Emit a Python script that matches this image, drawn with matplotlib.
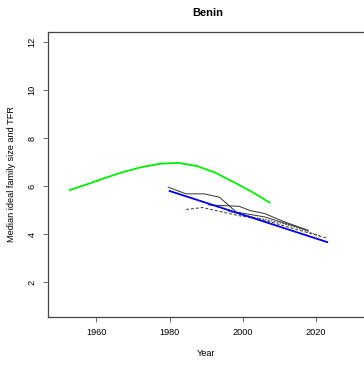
import matplotlib
matplotlib.use("Agg")
import matplotlib.pyplot as plt

plt.rcParams['font.family'] = ['Liberation Sans', 'DejaVu Sans']

country = "Benin"

# UN estimates of total fertility rate (5-year period midpoints)
tfr_years = [1952.5, 1957.5, 1962.5, 1967.5, 1972.5, 1977.5, 1982.5,
             1987.5, 1992.5, 1997.5, 2002.5, 2007.5]
tfr_values = [5.83, 6.08, 6.35, 6.60, 6.80, 6.94, 6.97, 6.84, 6.56, 6.17, 5.76, 5.30]

# Fitted trend of ideal family size
trend_years = [1980, 2023]
trend_values = [5.80, 3.67]

# Median ideal family size, solid series
ideal_a_years = [1979.6, 1984.5, 1989.5, 1993.6, 1998.2, 2005.9, 2017.7]
ideal_a_values = [5.96, 5.68, 5.68, 5.54, 4.92, 4.72, 4.16]

ideal_b_years = [1990.5, 1999.0, 2001.8, 2005.9, 2011.4, 2017.8]
ideal_b_values = [5.22, 5.16, 4.99, 4.86, 4.51, 4.16]

# Median ideal family size, dashed series
ideal_c_years = [1984.5, 1989.0, 1993.6, 1998.6, 2005.0, 2012.3, 2022.8]
ideal_c_values = [5.03, 5.11, 4.95, 4.78, 4.62, 4.30, 3.84]

ideal_d_years = [1996.0, 2002.0, 2008.0, 2013.0, 2021.0]
ideal_d_values = [4.95, 4.74, 4.55, 4.36, 3.92]

x_ticks = [1960, 1980, 2000, 2020]
y_ticks = [2, 4, 6, 8, 10, 12]

W, H = 364, 365
fig = plt.figure(figsize=(W / 100, H / 100), dpi=100)
left, right, top, bottom = 48, 364.6, 31.7, 316.7
ax = fig.add_axes([left / W, 1 - bottom / H, (right - left) / W, (bottom - top) / H])

ax.plot(tfr_years, tfr_values, color='#00ee00', lw=1.3, solid_capstyle='butt')
ax.plot(ideal_a_years, ideal_a_values, color='#333333', lw=0.7)
ax.plot(ideal_b_years, ideal_b_values, color='#333333', lw=0.7)
ax.plot(ideal_c_years, ideal_c_values, color='#333333', lw=0.7, ls=(0, (3, 2)))
ax.plot(ideal_d_years, ideal_d_values, color='#333333', lw=0.7, ls=(0, (1.5, 1.5)))
ax.plot(trend_years, trend_values, color='#0000ee', lw=1.3)

ax.set_xlim(1946.8, 2033.2)
ax.set_ylim(0.56, 12.44)
ax.set_xticks(x_ticks)
ax.set_yticks(y_ticks)
ax.set_xticklabels([str(t) for t in x_ticks], fontsize=6.6)
ax.set_yticklabels([str(t) for t in y_ticks], fontsize=6.6, rotation=90, va='center')
ax.tick_params(direction='out', length=3.6, width=0.6, color='#555555', pad=4.5)

for s in ax.spines.values():
    s.set_linewidth(0.9)
    s.set_color('#444444')

fig.text(208 / W, 1 - 13 / H, country, ha='center', va='center', fontsize=8, fontweight='bold')
fig.text(206 / W, 1 - 353 / H, "Year", ha='center', va='center', fontsize=6.6)
fig.text(12 / W, 1 - 174 / H, "Median ideal family size and TFR", ha='center', va='center',
         rotation=90, fontsize=6.6)

fig.savefig("out.png", dpi=100)
